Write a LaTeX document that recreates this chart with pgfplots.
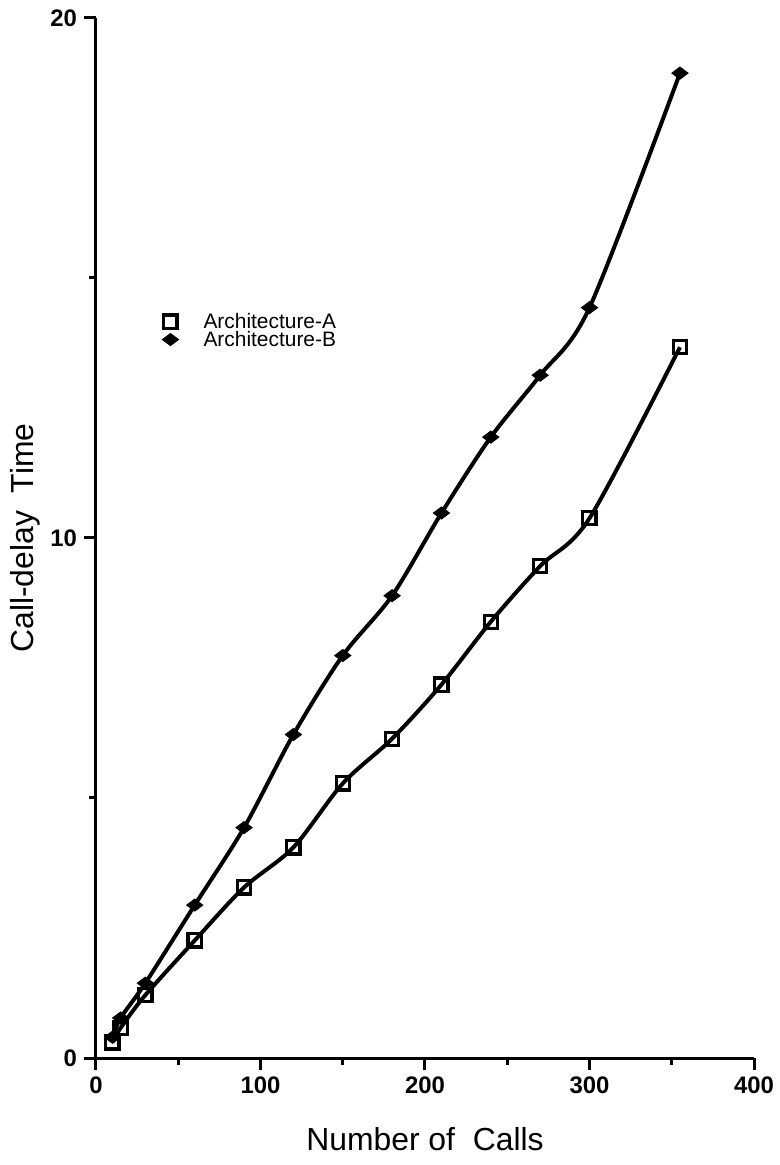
\documentclass[border=0pt]{standalone}
\usepackage{fontspec}
\setmainfont{Liberation Sans}
\usepackage{pgfplots}
\pgfplotsset{compat=1.18}
\usetikzlibrary{calc}

\begin{document}
\begin{tikzpicture}
\begin{axis}[
    scale only axis,
    width=329bp, height=520bp,
    xmin=0, xmax=400, ymin=0, ymax=20,
    axis x line=bottom, axis y line=left,
    axis line style={-, line width=1.5bp},
    xtick={0,100,200,300,400},
    ytick={0,10,20},
    minor xtick={50,150,250,350},
    minor ytick={5,15},
    tick align=outside,
    major tick length=6bp, minor tick length=3.5bp,
    every tick/.style={black, line width=1.5bp},
    tick label style={font=\fontsize{12}{12}\selectfont\bfseries},
    /pgf/number format/assume math mode=true,
    xlabel={Number of\ \ Calls},
    ylabel={Call-delay\ \ Time},
    every axis x label/.style={at={(axis description cs:0.5,-0.0885)}, anchor=base, font=\fontsize{16}{16}\selectfont},
    every axis y label/.style={at={(axis description cs:-0.0957,0.5)}, rotate=90, anchor=base, font=\fontsize{16}{16}\selectfont},
    legend image code/.code={%
        \draw[#1, only marks] plot coordinates {(0.15cm,0cm)};
        \path (0cm,0cm) (0.68cm,0cm);},
    legend style={draw=none, fill=none, at={(axis cs:35,14.4)}, anchor=north west,
        font=\fontsize{10.5}{10.5}\selectfont, row sep=1bp,
        nodes={inner sep=0.5bp, text height=7bp, text depth=0bp}},
    legend cell align=left,
    clip=false,
]

% Architecture-A
\addplot[black, line width=2bp, smooth, tension=0.5, mark=square, mark size=3.3bp,
    mark options={fill=white, line width=1.6bp}] coordinates {
    (10,0.30) (15,0.58) (30,1.21) (60,2.26) (90,3.28) (120,4.05)
    (150,5.28) (180,6.14) (210,7.18) (240,8.39) (270,9.46) (300,10.38)
    (355,13.67)
};

% Architecture-B
\addplot[black, line width=2bp, smooth, tension=0.5, mark=diamond*, mark size=4bp,
    mark options={rotate=90, line width=0.5bp}] coordinates {
    (10,0.40) (15,0.77) (30,1.44) (60,2.94) (90,4.43) (120,6.22)
    (150,7.74) (180,8.89) (210,10.48) (240,11.94) (270,13.13) (300,14.43)
    (355,18.94)
};

\legend{Architecture-A, Architecture-B}
\end{axis}
\pgfresetboundingbox
\path ($(current axis.origin)+(-48bp,-53.5bp)$) rectangle ($(current axis.origin)+(342bp,529bp)$);
\end{tikzpicture}
\end{document}
